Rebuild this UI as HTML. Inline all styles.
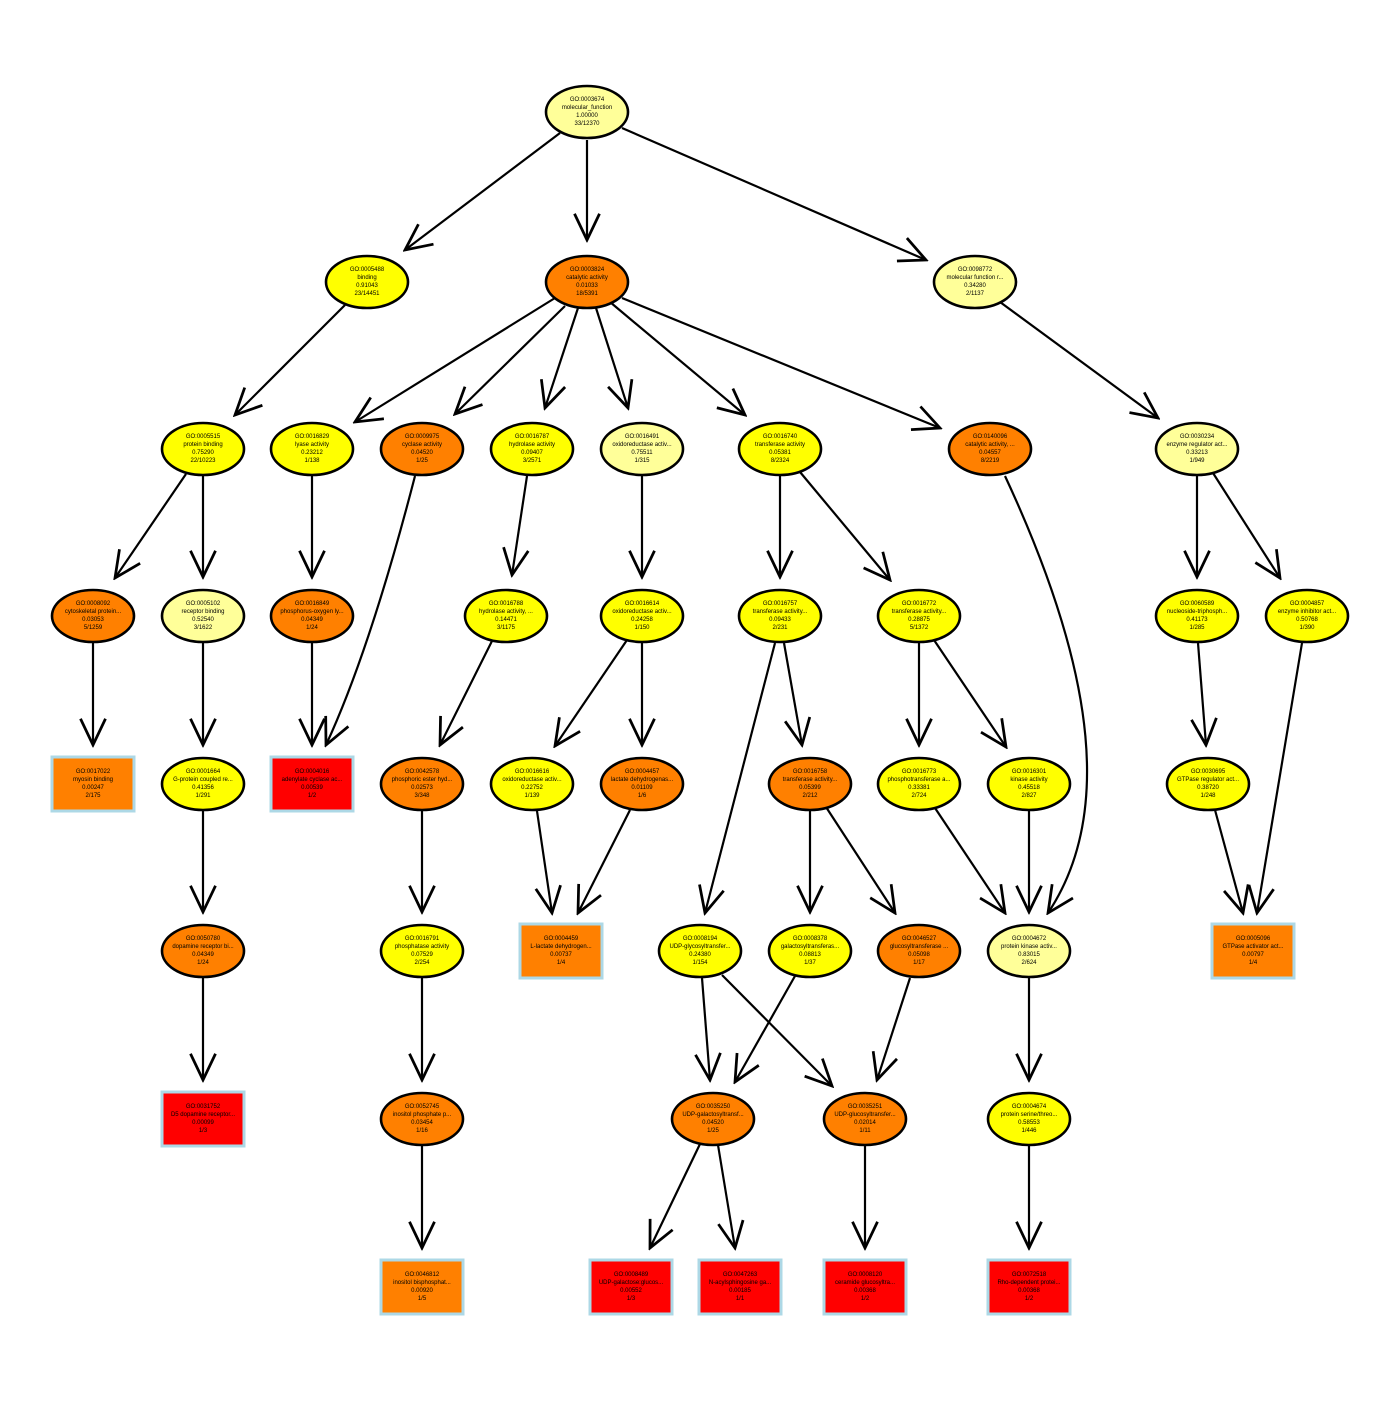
<!DOCTYPE html>
<html><head><meta charset="utf-8"><style>
html,body{margin:0;padding:0;background:#fff}
svg text{font-family:"Liberation Sans",sans-serif;font-size:6px;text-anchor:middle;fill:#000}
.e{stroke:#000;stroke-width:2.6}
.r{stroke:#add8e6;stroke-width:3}
.l{stroke:#000;stroke-width:2.2;fill:none;marker-end:url(#a)}
</style></head><body>
<svg width="1400" height="1400" viewBox="0 0 1400 1400" xmlns="http://www.w3.org/2000/svg">
<defs><marker id="a" markerUnits="userSpaceOnUse" markerWidth="30" markerHeight="30" refX="22" refY="11" orient="auto" viewBox="0 0 24 22"><path d="M1,1 L22,11 L1,21" fill="none" stroke="#000" stroke-width="2.2"/></marker></defs>
<g>
<line class="l" x1="560" y1="133" x2="405" y2="250"/>
<line class="l" x1="587" y1="140" x2="587" y2="240"/>
<line class="l" x1="622" y1="128" x2="926" y2="260"/>
<line class="l" x1="345" y1="305" x2="235" y2="415"/>
<line class="l" x1="555" y1="298" x2="355" y2="422"/>
<line class="l" x1="565" y1="306" x2="455" y2="414"/>
<line class="l" x1="578" y1="308" x2="545" y2="408"/>
<line class="l" x1="596" y1="308" x2="628" y2="408"/>
<line class="l" x1="610" y1="302" x2="745" y2="415"/>
<line class="l" x1="622" y1="298" x2="940" y2="428"/>
<line class="l" x1="1000" y1="302" x2="1158" y2="418"/>
<line class="l" x1="186" y1="474" x2="115" y2="578"/>
<line class="l" x1="203" y1="476" x2="203" y2="577"/>
<line class="l" x1="312" y1="476" x2="312" y2="577"/>
<path class="l" d="M415,476 Q370,650 326,745"/>
<line class="l" x1="527" y1="476" x2="512" y2="575"/>
<line class="l" x1="642" y1="476" x2="642" y2="577"/>
<line class="l" x1="780" y1="476" x2="780" y2="577"/>
<line class="l" x1="800" y1="472" x2="890" y2="580"/>
<path class="l" d="M1005,476 C1100,680 1110,820 1048,913"/>
<line class="l" x1="1197" y1="476" x2="1197" y2="577"/>
<line class="l" x1="1213" y1="473" x2="1280" y2="578"/>
<line class="l" x1="93" y1="642" x2="93" y2="745"/>
<line class="l" x1="203" y1="642" x2="203" y2="745"/>
<line class="l" x1="312" y1="642" x2="312" y2="745"/>
<line class="l" x1="492" y1="641" x2="440" y2="745"/>
<line class="l" x1="627" y1="640" x2="555" y2="746"/>
<line class="l" x1="642" y1="643" x2="642" y2="745"/>
<line class="l" x1="775" y1="643" x2="705" y2="913"/>
<line class="l" x1="784" y1="643" x2="802" y2="745"/>
<line class="l" x1="919" y1="643" x2="919" y2="745"/>
<line class="l" x1="934" y1="640" x2="1006" y2="747"/>
<line class="l" x1="1198" y1="643" x2="1206" y2="745"/>
<line class="l" x1="1302" y1="643" x2="1257" y2="913"/>
<line class="l" x1="203" y1="811" x2="203" y2="912"/>
<line class="l" x1="422" y1="811" x2="422" y2="912"/>
<line class="l" x1="537" y1="811" x2="552" y2="913"/>
<line class="l" x1="630" y1="810" x2="578" y2="913"/>
<line class="l" x1="810" y1="811" x2="810" y2="912"/>
<line class="l" x1="826" y1="807" x2="895" y2="913"/>
<line class="l" x1="935" y1="808" x2="1005" y2="913"/>
<line class="l" x1="1029" y1="811" x2="1029" y2="912"/>
<line class="l" x1="1215" y1="810" x2="1243" y2="913"/>
<line class="l" x1="203" y1="978" x2="203" y2="1080"/>
<line class="l" x1="422" y1="978" x2="422" y2="1080"/>
<line class="l" x1="702" y1="978" x2="710" y2="1080"/>
<line class="l" x1="722" y1="975" x2="832" y2="1086"/>
<line class="l" x1="795" y1="976" x2="735" y2="1082"/>
<line class="l" x1="910" y1="978" x2="877" y2="1080"/>
<line class="l" x1="1029" y1="978" x2="1029" y2="1080"/>
<line class="l" x1="422" y1="1146" x2="422" y2="1248"/>
<line class="l" x1="700" y1="1144" x2="650" y2="1248"/>
<line class="l" x1="718" y1="1145" x2="735" y2="1248"/>
<line class="l" x1="865" y1="1146" x2="865" y2="1248"/>
<line class="l" x1="1029" y1="1146" x2="1029" y2="1248"/>
</g>
<!-- ellipses -->
<g>
<ellipse class="e" cx="587" cy="112" rx="41" ry="26" fill="#ffff99"/><text x="587" y="101">GO:0003674</text><text x="587" y="109">molecular_function</text><text x="587" y="117">1.00000</text><text x="587" y="125">33/12370</text>
<ellipse class="e" cx="367" cy="282" rx="41" ry="26" fill="#ffff00"/><text x="367" y="271">GO:0005488</text><text x="367" y="279">binding</text><text x="367" y="287">0.91043</text><text x="367" y="295">23/14451</text>
<ellipse class="e" cx="587" cy="282" rx="41" ry="26" fill="#ff8000"/><text x="587" y="271">GO:0003824</text><text x="587" y="279">catalytic activity</text><text x="587" y="287">0.01033</text><text x="587" y="295">18/5391</text>
<ellipse class="e" cx="975" cy="282" rx="41" ry="26" fill="#ffff99"/><text x="975" y="271">GO:0098772</text><text x="975" y="279">molecular function r...</text><text x="975" y="287">0.34280</text><text x="975" y="295">2/1137</text>
<ellipse class="e" cx="203" cy="449" rx="41" ry="26" fill="#ffff00"/><text x="203" y="438">GO:0005515</text><text x="203" y="446">protein binding</text><text x="203" y="454">0.75290</text><text x="203" y="462">22/10223</text>
<ellipse class="e" cx="312" cy="449" rx="41" ry="26" fill="#ffff00"/><text x="312" y="438">GO:0016829</text><text x="312" y="446">lyase activity</text><text x="312" y="454">0.23212</text><text x="312" y="462">1/138</text>
<ellipse class="e" cx="422" cy="449" rx="41" ry="26" fill="#ff8000"/><text x="422" y="438">GO:0009975</text><text x="422" y="446">cyclase activity</text><text x="422" y="454">0.04520</text><text x="422" y="462">1/25</text>
<ellipse class="e" cx="532" cy="449" rx="41" ry="26" fill="#ffff00"/><text x="532" y="438">GO:0016787</text><text x="532" y="446">hydrolase activity</text><text x="532" y="454">0.09407</text><text x="532" y="462">3/2571</text>
<ellipse class="e" cx="642" cy="449" rx="41" ry="26" fill="#ffff99"/><text x="642" y="438">GO:0016491</text><text x="642" y="446">oxidoreductase activ...</text><text x="642" y="454">0.75511</text><text x="642" y="462">1/315</text>
<ellipse class="e" cx="780" cy="449" rx="41" ry="26" fill="#ffff00"/><text x="780" y="438">GO:0016740</text><text x="780" y="446">transferase activity</text><text x="780" y="454">0.05381</text><text x="780" y="462">8/2324</text>
<ellipse class="e" cx="990" cy="449" rx="41" ry="26" fill="#ff8000"/><text x="990" y="438">GO:0140096</text><text x="990" y="446">catalytic activity, ...</text><text x="990" y="454">0.04557</text><text x="990" y="462">8/2219</text>
<ellipse class="e" cx="1197" cy="449" rx="41" ry="26" fill="#ffff99"/><text x="1197" y="438">GO:0030234</text><text x="1197" y="446">enzyme regulator act...</text><text x="1197" y="454">0.33213</text><text x="1197" y="462">1/949</text>
<ellipse class="e" cx="93" cy="616" rx="41" ry="26" fill="#ff8000"/><text x="93" y="605">GO:0008092</text><text x="93" y="613">cytoskeletal protein...</text><text x="93" y="621">0.03053</text><text x="93" y="629">5/1259</text>
<ellipse class="e" cx="203" cy="616" rx="41" ry="26" fill="#ffff99"/><text x="203" y="605">GO:0005102</text><text x="203" y="613">receptor binding</text><text x="203" y="621">0.52540</text><text x="203" y="629">3/1622</text>
<ellipse class="e" cx="312" cy="616" rx="41" ry="26" fill="#ff8000"/><text x="312" y="605">GO:0016849</text><text x="312" y="613">phosphorus-oxygen ly...</text><text x="312" y="621">0.04349</text><text x="312" y="629">1/24</text>
<ellipse class="e" cx="506" cy="616" rx="41" ry="26" fill="#ffff00"/><text x="506" y="605">GO:0016788</text><text x="506" y="613">hydrolase activity, ...</text><text x="506" y="621">0.14471</text><text x="506" y="629">3/1175</text>
<ellipse class="e" cx="642" cy="616" rx="41" ry="26" fill="#ffff00"/><text x="642" y="605">GO:0016614</text><text x="642" y="613">oxidoreductase activ...</text><text x="642" y="621">0.24258</text><text x="642" y="629">1/150</text>
<ellipse class="e" cx="780" cy="616" rx="41" ry="26" fill="#ffff00"/><text x="780" y="605">GO:0016757</text><text x="780" y="613">transferase activity...</text><text x="780" y="621">0.09433</text><text x="780" y="629">2/231</text>
<ellipse class="e" cx="919" cy="616" rx="41" ry="26" fill="#ffff00"/><text x="919" y="605">GO:0016772</text><text x="919" y="613">transferase activity...</text><text x="919" y="621">0.28875</text><text x="919" y="629">5/1372</text>
<ellipse class="e" cx="1197" cy="616" rx="41" ry="26" fill="#ffff00"/><text x="1197" y="605">GO:0060589</text><text x="1197" y="613">nucleoside-triphosph...</text><text x="1197" y="621">0.41173</text><text x="1197" y="629">1/285</text>
<ellipse class="e" cx="1307" cy="616" rx="41" ry="26" fill="#ffff00"/><text x="1307" y="605">GO:0004857</text><text x="1307" y="613">enzyme inhibitor act...</text><text x="1307" y="621">0.50768</text><text x="1307" y="629">1/390</text>
<ellipse class="e" cx="203" cy="784" rx="41" ry="26" fill="#ffff00"/><text x="203" y="773">GO:0001664</text><text x="203" y="781">G-protein coupled re...</text><text x="203" y="789">0.41356</text><text x="203" y="797">1/291</text>
<ellipse class="e" cx="422" cy="784" rx="41" ry="26" fill="#ff8000"/><text x="422" y="773">GO:0042578</text><text x="422" y="781">phosphoric ester hyd...</text><text x="422" y="789">0.02573</text><text x="422" y="797">3/348</text>
<ellipse class="e" cx="532" cy="784" rx="41" ry="26" fill="#ffff00"/><text x="532" y="773">GO:0016616</text><text x="532" y="781">oxidoreductase activ...</text><text x="532" y="789">0.22752</text><text x="532" y="797">1/139</text>
<ellipse class="e" cx="642" cy="784" rx="41" ry="26" fill="#ff8000"/><text x="642" y="773">GO:0004457</text><text x="642" y="781">lactate dehydrogenas...</text><text x="642" y="789">0.01109</text><text x="642" y="797">1/6</text>
<ellipse class="e" cx="810" cy="784" rx="41" ry="26" fill="#ff8000"/><text x="810" y="773">GO:0016758</text><text x="810" y="781">transferase activity...</text><text x="810" y="789">0.05399</text><text x="810" y="797">2/212</text>
<ellipse class="e" cx="919" cy="784" rx="41" ry="26" fill="#ffff00"/><text x="919" y="773">GO:0016773</text><text x="919" y="781">phosphotransferase a...</text><text x="919" y="789">0.33381</text><text x="919" y="797">2/724</text>
<ellipse class="e" cx="1029" cy="784" rx="41" ry="26" fill="#ffff00"/><text x="1029" y="773">GO:0016301</text><text x="1029" y="781">kinase activity</text><text x="1029" y="789">0.45518</text><text x="1029" y="797">2/827</text>
<ellipse class="e" cx="1208" cy="784" rx="41" ry="26" fill="#ffff00"/><text x="1208" y="773">GO:0030695</text><text x="1208" y="781">GTPase regulator act...</text><text x="1208" y="789">0.38720</text><text x="1208" y="797">1/248</text>
<ellipse class="e" cx="203" cy="951" rx="41" ry="26" fill="#ff8000"/><text x="203" y="940">GO:0050780</text><text x="203" y="948">dopamine receptor bi...</text><text x="203" y="956">0.04349</text><text x="203" y="964">1/24</text>
<ellipse class="e" cx="422" cy="951" rx="41" ry="26" fill="#ffff00"/><text x="422" y="940">GO:0016791</text><text x="422" y="948">phosphatase activity</text><text x="422" y="956">0.07529</text><text x="422" y="964">2/254</text>
<ellipse class="e" cx="700" cy="951" rx="41" ry="26" fill="#ffff00"/><text x="700" y="940">GO:0008194</text><text x="700" y="948">UDP-glycosyltransfer...</text><text x="700" y="956">0.24380</text><text x="700" y="964">1/154</text>
<ellipse class="e" cx="810" cy="951" rx="41" ry="26" fill="#ffff00"/><text x="810" y="940">GO:0008378</text><text x="810" y="948">galactosyltransferas...</text><text x="810" y="956">0.08813</text><text x="810" y="964">1/37</text>
<ellipse class="e" cx="919" cy="951" rx="41" ry="26" fill="#ff8000"/><text x="919" y="940">GO:0046527</text><text x="919" y="948">glucosyltransferase ...</text><text x="919" y="956">0.05098</text><text x="919" y="964">1/17</text>
<ellipse class="e" cx="1029" cy="951" rx="41" ry="26" fill="#ffff99"/><text x="1029" y="940">GO:0004672</text><text x="1029" y="948">protein kinase activ...</text><text x="1029" y="956">0.83015</text><text x="1029" y="964">2/624</text>
<ellipse class="e" cx="422" cy="1119" rx="41" ry="26" fill="#ff8000"/><text x="422" y="1108">GO:0052745</text><text x="422" y="1116">inositol phosphate p...</text><text x="422" y="1124">0.03454</text><text x="422" y="1132">1/16</text>
<ellipse class="e" cx="713" cy="1119" rx="41" ry="26" fill="#ff8000"/><text x="713" y="1108">GO:0035250</text><text x="713" y="1116">UDP-galactosyltransf...</text><text x="713" y="1124">0.04520</text><text x="713" y="1132">1/25</text>
<ellipse class="e" cx="865" cy="1119" rx="41" ry="26" fill="#ff8000"/><text x="865" y="1108">GO:0035251</text><text x="865" y="1116">UDP-glucosyltransfer...</text><text x="865" y="1124">0.02014</text><text x="865" y="1132">1/11</text>
<ellipse class="e" cx="1029" cy="1119" rx="41" ry="26" fill="#ffff00"/><text x="1029" y="1108">GO:0004674</text><text x="1029" y="1116">protein serine/threo...</text><text x="1029" y="1124">0.58553</text><text x="1029" y="1132">1/446</text>
</g>
<!-- rects -->
<g>
<rect class="r" x="52" y="757" width="82" height="54" fill="#ff8000"/><text x="93" y="773">GO:0017022</text><text x="93" y="781">myosin binding</text><text x="93" y="789">0.00247</text><text x="93" y="797">2/175</text>
<rect class="r" x="271" y="757" width="82" height="54" fill="#ff0000"/><text x="312" y="773">GO:0004016</text><text x="312" y="781">adenylate cyclase ac...</text><text x="312" y="789">0.00539</text><text x="312" y="797">1/2</text>
<rect class="r" x="520" y="924" width="82" height="54" fill="#ff8000"/><text x="561" y="940">GO:0004459</text><text x="561" y="948">L-lactate dehydrogen...</text><text x="561" y="956">0.00737</text><text x="561" y="964">1/4</text>
<rect class="r" x="1212" y="924" width="82" height="54" fill="#ff8000"/><text x="1253" y="940">GO:0005096</text><text x="1253" y="948">GTPase activator act...</text><text x="1253" y="956">0.00797</text><text x="1253" y="964">1/4</text>
<rect class="r" x="162" y="1092" width="82" height="54" fill="#ff0000"/><text x="203" y="1108">GO:0031752</text><text x="203" y="1116">D5 dopamine receptor...</text><text x="203" y="1124">0.00099</text><text x="203" y="1132">1/3</text>
<rect class="r" x="381" y="1260" width="82" height="54" fill="#ff8000"/><text x="422" y="1276">GO:0046812</text><text x="422" y="1284">inositol bisphosphat...</text><text x="422" y="1292">0.00920</text><text x="422" y="1300">1/5</text>
<rect class="r" x="590" y="1260" width="82" height="54" fill="#ff0000"/><text x="631" y="1276">GO:0008489</text><text x="631" y="1284">UDP-galactose:glucos...</text><text x="631" y="1292">0.00552</text><text x="631" y="1300">1/3</text>
<rect class="r" x="699" y="1260" width="82" height="54" fill="#ff0000"/><text x="740" y="1276">GO:0047263</text><text x="740" y="1284">N-acylsphingosine ga...</text><text x="740" y="1292">0.00185</text><text x="740" y="1300">1/1</text>
<rect class="r" x="824" y="1260" width="82" height="54" fill="#ff0000"/><text x="865" y="1276">GO:0008120</text><text x="865" y="1284">ceramide glucosyltra...</text><text x="865" y="1292">0.00368</text><text x="865" y="1300">1/2</text>
<rect class="r" x="988" y="1260" width="82" height="54" fill="#ff0000"/><text x="1029" y="1276">GO:0072518</text><text x="1029" y="1284">Rho-dependent protei...</text><text x="1029" y="1292">0.00368</text><text x="1029" y="1300">1/2</text>
</g>
</svg>
</body></html>
